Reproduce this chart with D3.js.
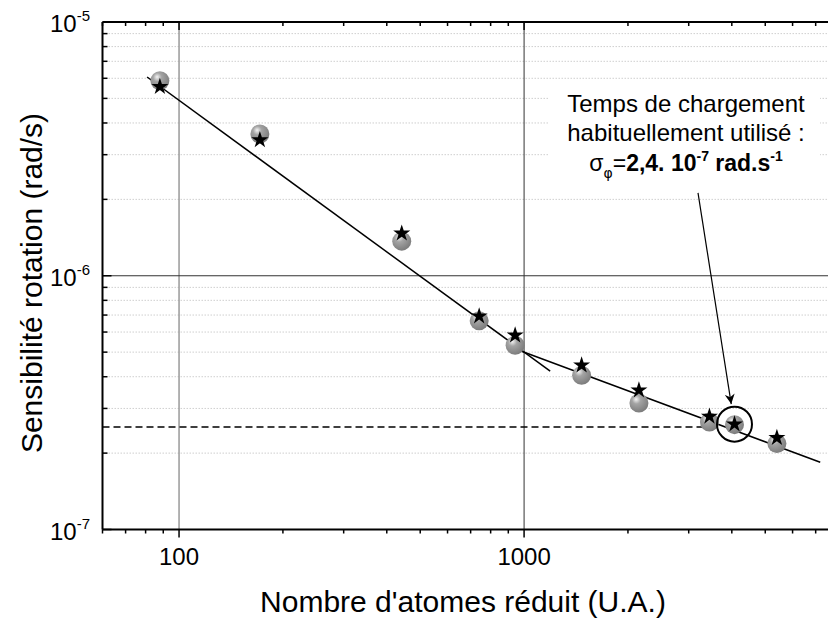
<!DOCTYPE html>
<html><head><meta charset="utf-8">
<script src="https://cdn.jsdelivr.net/npm/d3@7"></script>
<style>html,body{margin:0;padding:0;background:#fff;}svg{display:block;font-family:"Liberation Sans",Arial,sans-serif;}</style>
</head><body><svg id="c" width="828" height="624"></svg>
<script>
// ---- data ----
const atoms = [88, 171.5, 442, 741, 942, 1468, 2152, 3445, 4072, 5404];
const sphereSens = [5.87e-6, 3.62e-6, 1.369e-6, 6.64e-7, 5.32e-7, 4.05e-7, 3.15e-7, 2.65e-7, 2.59e-7, 2.18e-7];
const starSens = [5.56e-6, 3.43e-6, 1.469e-6, 6.93e-7, 5.83e-7, 4.44e-7, 3.54e-7, 2.79e-7, 2.60e-7, 2.30e-7];
const fit1X = [80.8, 1190], fit1Y = [6.07e-6, 4.21e-7];
const fit2X = [911, 7215], fit2Y = [5.24e-7, 1.84e-7];
const refLevel = 2.535e-7, refXEnd = 3300;
const highlightIndex = 8;
const arrowFrom = [3192, 2.12e-6], arrowTo = [3985, 3.12e-7];
const xMajor = [100, 1000];
const xMinor = [60, 70, 80, 90, 200, 300, 400, 500, 600, 700, 800, 900, 2000, 3000, 4000, 5000, 6000, 7000];
const yMajor = [1e-7, 1e-6, 1e-5];
const yMajorLabels = [["10", "-7"], ["10", "-6"], ["10", "-5"]];
const yMinor = [];
[1e-7, 1e-6].forEach(b => { for (let k = 2; k <= 9; k++) yMinor.push(k * b); });
const xTitle = "Nombre d'atomes réduit (U.A.)";
const yTitle = "Sensibilité rotation (rad/s)";

// ---- layout ----
const L = 102.5, R = 828, T = 22, B = 529.5;
const x = d3.scaleLog().domain([60, 7600]).range([L, R]);
const y = d3.scaleLog().domain([1e-7, 1e-5]).range([B, T]);
const svg = d3.select("#c");

const defs = svg.append("defs");
const grad = defs.append("radialGradient").attr("id", "sph").attr("cx", "0.4").attr("cy", "0.35").attr("r", "0.65").attr("fx", "0.35").attr("fy", "0.3");
grad.append("stop").attr("offset", "0").attr("stop-color", "#f4f4f4");
grad.append("stop").attr("offset", "0.35").attr("stop-color", "#a4a4a4");
grad.append("stop").attr("offset", "1").attr("stop-color", "#7c7c7c");

// minor dotted grid
svg.append("g").selectAll("line").data(yMinor).join("line")
  .attr("x1", L).attr("x2", R).attr("y1", d => y(d)).attr("y2", d => y(d))
  .attr("stroke", "#cfcfcf").attr("stroke-width", 1).attr("stroke-dasharray", "1.5,1.5");
// major grid
svg.append("line").attr("x1", x(100)).attr("x2", x(100)).attr("y1", T).attr("y2", B).attr("stroke", "#999").attr("stroke-width", 1.5);
svg.append("line").attr("x1", x(1000)).attr("x2", x(1000)).attr("y1", T).attr("y2", B).attr("stroke", "#333").attr("stroke-width", 1);
svg.append("line").attr("x1", L).attr("x2", R).attr("y1", y(1e-6)).attr("y2", y(1e-6)).attr("stroke", "#333").attr("stroke-width", 1);

// annotation background box
svg.append("rect").attr("x", 548).attr("y", 86).attr("width", 272).attr("height", 100).attr("fill", "#fff");

// axes lines
svg.append("line").attr("x1", L).attr("x2", R).attr("y1", B).attr("y2", B).attr("stroke", "#000").attr("stroke-width", 2);
svg.append("line").attr("x1", L).attr("x2", R).attr("y1", T).attr("y2", T).attr("stroke", "#000").attr("stroke-width", 2);
svg.append("line").attr("x1", L).attr("x2", L).attr("y1", T).attr("y2", B).attr("stroke", "#000").attr("stroke-width", 2);

// ticks
const tk = svg.append("g").attr("stroke", "#000").attr("stroke-width", 1.5);
xMinor.forEach(v => {
  tk.append("line").attr("x1", x(v)).attr("x2", x(v)).attr("y1", B).attr("y2", B + 4);
  tk.append("line").attr("x1", x(v)).attr("x2", x(v)).attr("y1", T).attr("y2", T + 4);
});
xMajor.forEach(v => {
  tk.append("line").attr("x1", x(v)).attr("x2", x(v)).attr("y1", B).attr("y2", B + 8);
  tk.append("line").attr("x1", x(v)).attr("x2", x(v)).attr("y1", T).attr("y2", T + 8);
});
yMinor.forEach(v => tk.append("line").attr("x1", L).attr("x2", L + 5).attr("y1", y(v)).attr("y2", y(v)));
yMajor.forEach(v => tk.append("line").attr("x1", L).attr("x2", L + 9).attr("y1", y(v)).attr("y2", y(v)));

// tick labels
svg.append("g").selectAll("text").data(xMajor).join("text")
  .attr("x", d => x(d)).attr("y", B + 35).attr("text-anchor", "middle")
  .attr("font-size", 24).text(d => d);
yMajor.forEach((v, i) => {
  const t = svg.append("text").attr("x", 90).attr("y", y(v) + 10).attr("text-anchor", "end").attr("font-size", 24);
  t.append("tspan").text(yMajorLabels[i][0]);
  t.append("tspan").attr("dy", -11).attr("font-size", 15).text(yMajorLabels[i][1]);
});

// titles
svg.append("text").attr("x", 463).attr("y", 612).attr("text-anchor", "middle").attr("font-size", 30).text(xTitle);
svg.append("text").attr("transform", "translate(42,283) rotate(-90)").attr("text-anchor", "middle").attr("font-size", 30).text(yTitle);

// reference dashed
svg.append("line").attr("x1", L).attr("x2", x(refXEnd)).attr("y1", y(refLevel)).attr("y2", y(refLevel))
  .attr("stroke", "#000").attr("stroke-width", 1.3).attr("stroke-dasharray", "7,4");

// fit lines
const line = d3.line().x(d => x(d[0])).y(d => y(d[1]));
svg.append("path").attr("d", line(d3.zip(fit1X, fit1Y))).attr("stroke", "#000").attr("stroke-width", 1.5).attr("fill", "none");
svg.append("path").attr("d", line(d3.zip(fit2X, fit2Y))).attr("stroke", "#000").attr("stroke-width", 1.5).attr("fill", "none");

// spheres
svg.append("g").selectAll("circle").data(d3.zip(atoms, sphereSens)).join("circle")
  .attr("cx", d => x(d[0])).attr("cy", d => y(d[1])).attr("r", 9.5).attr("fill", "url(#sph)");
// stars
const star = d3.symbol().type(d3.symbolStar).size(90);
svg.append("g").selectAll("path").data(d3.zip(atoms, starSens)).join("path")
  .attr("transform", d => `translate(${x(d[0])},${y(d[1])})`).attr("d", star()).attr("fill", "#000");

// highlight circle
svg.append("circle").attr("cx", x(atoms[highlightIndex])).attr("cy", y(starSens[highlightIndex])).attr("r", 17.5)
  .attr("fill", "none").attr("stroke", "#000").attr("stroke-width", 2);

// arrow
defs.append("marker").attr("id", "ah").attr("viewBox", "0 0 10 10").attr("refX", 10).attr("refY", 5)
  .attr("markerWidth", 10).attr("markerHeight", 10).attr("markerUnits", "userSpaceOnUse").attr("orient", "auto")
  .append("path").attr("d", "M0,0 L10,5 L0,10 L3,5 Z").attr("fill", "#000");
svg.append("line").attr("x1", x(arrowFrom[0])).attr("y1", y(arrowFrom[1])).attr("x2", x(arrowTo[0])).attr("y2", y(arrowTo[1]))
  .attr("stroke", "#000").attr("stroke-width", 1.2).attr("marker-end", "url(#ah)");

// annotation text
const ax = 686;
svg.append("text").attr("x", ax).attr("y", 112).attr("text-anchor", "middle").attr("font-size", 24).text("Temps de chargement");
svg.append("text").attr("x", ax).attr("y", 141).attr("text-anchor", "middle").attr("font-size", 24).text("habituellement utilisé :");
const t3 = svg.append("text").attr("x", ax).attr("y", 171).attr("text-anchor", "middle").attr("font-size", 23);
t3.append("tspan").text("σ");
t3.append("tspan").attr("dy", 7).attr("font-size", 14).attr("font-family", "DejaVu Sans").text("φ");
t3.append("tspan").attr("dy", -7).text("=");
t3.append("tspan").attr("font-weight", "bold").text("2,4. 10");
t3.append("tspan").attr("dy", -10).attr("font-size", 14).attr("font-weight", "bold").text("-7");
t3.append("tspan").attr("dy", 10).attr("font-weight", "bold").text(" rad.s");
t3.append("tspan").attr("dy", -10).attr("font-size", 14).attr("font-weight", "bold").text("-1");
</script></body></html>
